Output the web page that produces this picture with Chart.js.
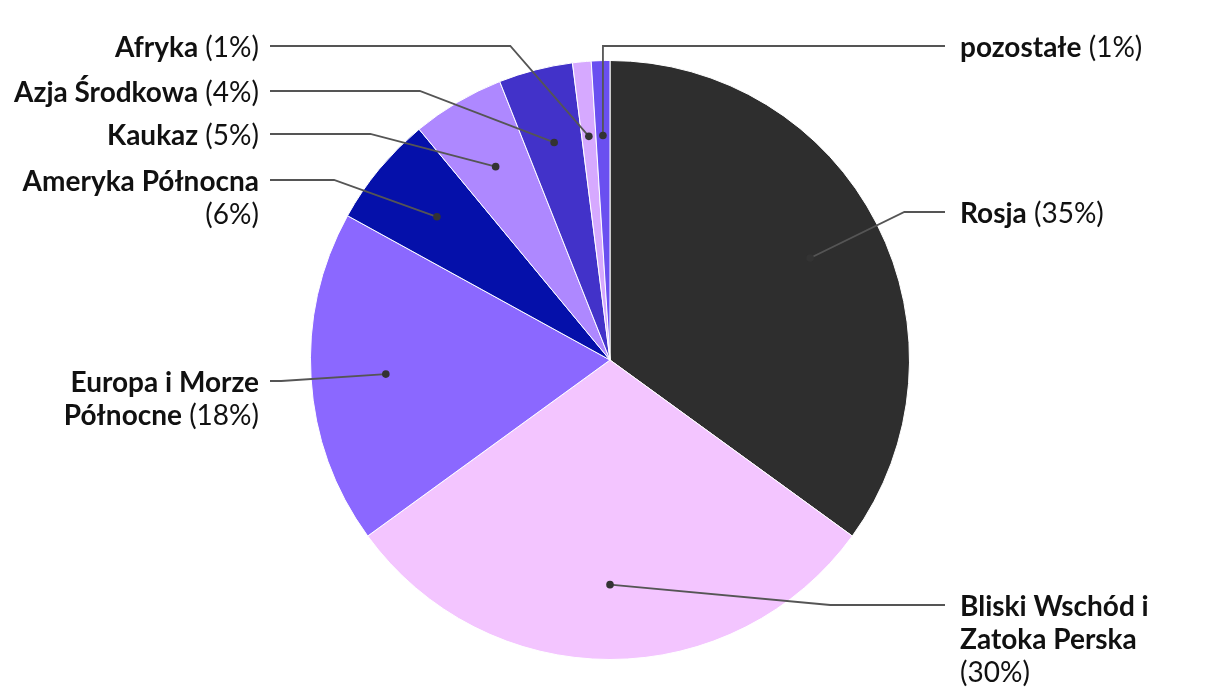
<!DOCTYPE html>
<html>
<head>
<meta charset="utf-8">
<script src="https://cdn.jsdelivr.net/npm/chart.js@4"></script>
<style>
  html, body { margin: 0; padding: 0; background: #fff; }
  #wrap { width: 1220px; height: 700px; }
</style>
</head>
<body>
<div id="wrap"><canvas id="wykres"></canvas></div>
<script>
const regiony = ['Rosja', 'Bliski Wschód i Zatoka Perska', 'Europa i Morze Północne', 'Ameryka Północna', 'Kaukaz', 'Azja Środkowa', 'Afryka', 'pozostałe'];
const udzialy = [35, 30, 18, 6, 5, 4, 1, 1];
const kolory = ['#2e2e2e', '#f3c5ff', '#8b68ff', '#0510aa', '#ae88ff', '#4232c9', '#d6a9ff', '#6a4ff0'];

// where the labels sit (side of the pie and y of the first line)
const strona = ['r', 'r', 'l', 'l', 'l', 'l', 'l', 'r'];
const etykietaY = [212, 605, 381, 180, 134, 91, 46, 46];
const pionowo = [false, false, false, false, false, false, false, true];

const FONT = 'Lato';
const ROZMIAR = 28;
const LINIA = 33;

function zawin(ctx, nazwa, procent, maxW) {
  const tokeny = nazwa.split(' ').map(t => ({ t, b: true }));
  tokeny.push({ t: '(' + procent + '%)', b: false });
  const linie = [];
  let biezaca = [];
  let szer = 0;
  tokeny.forEach(tok => {
    ctx.font = (tok.b ? 'bold ' : '') + ROZMIAR + 'px ' + FONT;
    const w = ctx.measureText(tok.t).width;
    const spacja = biezaca.length ? ctx.measureText(' ').width : 0;
    if (biezaca.length && szer + spacja + w > maxW) {
      linie.push({ seg: biezaca, w: szer });
      biezaca = [];
      szer = 0;
    }
    const sp = biezaca.length ? ctx.measureText(' ').width : 0;
    biezaca.push({ t: tok.t, b: tok.b, w, sp });
    szer += sp + w;
  });
  if (biezaca.length) linie.push({ seg: biezaca, w: szer });
  return linie;
}

const etykiety = {
  id: 'etykiety',
  afterDatasetsDraw(chart) {
    const ctx = chart.ctx;
    const meta = chart.getDatasetMeta(0);
    ctx.save();
    meta.data.forEach((arc, i) => {
      const p = arc.getProps(['x', 'y', 'startAngle', 'endAngle', 'outerRadius'], true);
      const mid = (p.startAngle + p.endAngle) / 2;
      const px = p.x + Math.cos(mid) * p.outerRadius * 0.75;
      const py = p.y + Math.sin(mid) * p.outerRadius * 0.75;
      const ly = etykietaY[i];
      const prawa = strona[i] === 'r';
      const r2 = p.outerRadius * 1.1;
      let ex;
      if (pionowo[i]) {
        ex = px;
      } else {
        const h = Math.sqrt(Math.max(0, r2 * r2 - (ly - p.y) * (ly - p.y)));
        ex = prawa ? p.x + h : p.x - h;
      }
      const koniec = prawa ? p.x + 335 : p.x - 340;

      ctx.strokeStyle = '#555';
      ctx.lineWidth = 1.8;
      ctx.beginPath();
      ctx.moveTo(px, py);
      ctx.lineTo(ex, ly);
      ctx.lineTo(koniec, ly);
      ctx.stroke();

      ctx.fillStyle = '#333';
      ctx.beginPath();
      ctx.arc(px, py, 3.8, 0, Math.PI * 2);
      ctx.fill();

      const tx = prawa ? p.x + 350 : p.x - 351;
      const linie = zawin(ctx, regiony[i], udzialy[i], prawa ? 200 : 255);
      ctx.fillStyle = '#111';
      ctx.textBaseline = 'middle';
      ctx.textAlign = 'left';
      linie.forEach((l, k) => {
        let x = prawa ? tx : tx - l.w;
        const y = ly + 2 + k * LINIA;
        l.seg.forEach(s => {
          x += s.sp;
          ctx.font = (s.b ? 'bold ' : '') + ROZMIAR + 'px ' + FONT;
          ctx.fillText(s.t, x, y);
          x += s.w;
        });
      });
    });
    ctx.restore();
  }
};

new Chart(document.getElementById('wykres'), {
  type: 'pie',
  data: {
    labels: regiony,
    datasets: [{
      data: udzialy,
      backgroundColor: kolory,
      borderColor: '#ffffff',
      borderWidth: 1
    }]
  },
  options: {
    responsive: true,
    maintainAspectRatio: false,
    animation: false,
    layout: { padding: { top: 60, bottom: 40 } },
    plugins: {
      legend: { display: false },
      tooltip: { enabled: false }
    }
  },
  plugins: [etykiety]
});
</script>
</body>
</html>
